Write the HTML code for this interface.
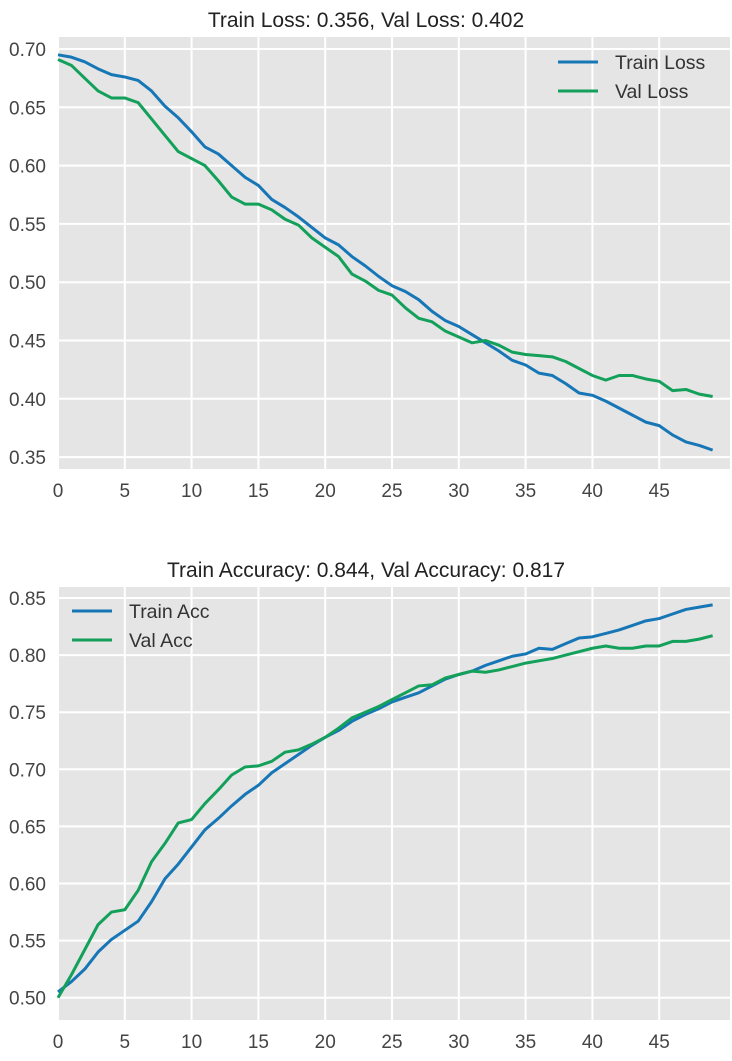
<!DOCTYPE html>
<html><head><meta charset="utf-8"><style>
body{margin:0;background:#fff;}
svg text{font-family:"Liberation Sans",sans-serif;}
</style></head><body>
<svg id="c" width="732" height="1056"></svg>
<script>
const epochs=[...Array(50).keys()];
const trainLoss=[0.695,0.693,0.689,0.683,0.678,0.676,0.673,0.664,0.651,0.641,0.629,0.616,0.610,0.600,0.590,0.583,0.571,0.564,0.556,0.547,0.538,0.532,0.522,0.514,0.505,0.497,0.492,0.485,0.475,0.467,0.462,0.455,0.448,0.441,0.433,0.429,0.422,0.420,0.413,0.405,0.403,0.398,0.392,0.386,0.380,0.377,0.369,0.363,0.360,0.356];
const valLoss=[0.691,0.686,0.675,0.664,0.658,0.658,0.654,0.640,0.626,0.612,0.606,0.600,0.587,0.573,0.567,0.567,0.562,0.554,0.549,0.538,0.530,0.522,0.507,0.501,0.493,0.489,0.478,0.469,0.466,0.458,0.453,0.448,0.450,0.446,0.440,0.438,0.437,0.436,0.432,0.426,0.420,0.416,0.420,0.420,0.417,0.415,0.407,0.408,0.404,0.402];
const trainAcc=[0.505,0.514,0.525,0.540,0.551,0.559,0.567,0.584,0.604,0.617,0.632,0.647,0.657,0.668,0.678,0.686,0.697,0.705,0.713,0.721,0.728,0.734,0.742,0.748,0.753,0.759,0.763,0.767,0.773,0.779,0.783,0.786,0.791,0.795,0.799,0.801,0.806,0.805,0.810,0.815,0.816,0.819,0.822,0.826,0.830,0.832,0.836,0.840,0.842,0.844];
const valAcc=[0.500,0.520,0.542,0.564,0.575,0.577,0.594,0.619,0.635,0.653,0.656,0.670,0.682,0.695,0.702,0.703,0.707,0.715,0.717,0.722,0.728,0.736,0.745,0.750,0.755,0.761,0.767,0.773,0.774,0.780,0.783,0.786,0.785,0.787,0.790,0.793,0.795,0.797,0.800,0.803,0.806,0.808,0.806,0.806,0.808,0.808,0.812,0.812,0.814,0.817];
const xTicks=[0,5,10,15,20,25,30,35,40,45];
const lossTicks=[0.35,0.40,0.45,0.50,0.55,0.60,0.65,0.70];
const accTicks=[0.50,0.55,0.60,0.65,0.70,0.75,0.80,0.85];
const NS='http://www.w3.org/2000/svg';
const svg=document.getElementById('c');
function mk(tag,attrs,parent){const e=document.createElementNS(NS,tag);for(const k in attrs)e.setAttribute(k,attrs[k]);(parent||svg).appendChild(e);return e;}
const BLUE='#1776b6',GREEN='#13a05a';
function panel(o){
  const g=mk('g',{});
  
  
  const X=v=>o.x0+(v-0)*o.xs;
  const Y=v=>o.yRef+(o.vRef-v)*o.ys;
  const bg=mk('rect',{x:o.left,y:o.top,width:o.right-o.left,height:o.bottom-o.top,fill:'#e5e5e5'},g);
  
  
  xTicks.forEach(t=>{
    mk('line',{x1:X(t),x2:X(t),y1:o.top,y2:o.bottom,stroke:'#fff','stroke-width':2},g);
    const tx=mk('text',{x:X(t),y:o.bottom+28,'text-anchor':'middle','font-size':19,fill:'#444'},g);
    tx.textContent=t;
    
    
  });
  o.yt.forEach(t=>{
    mk('line',{x1:o.left,x2:o.right,y1:Y(t),y2:Y(t),stroke:'#fff','stroke-width':2},g);
    const tx=mk('text',{x:o.left-12,y:Y(t)+7,'text-anchor':'end','font-size':19,fill:'#444'},g);
    tx.textContent=t.toFixed(2);
    
    
  });
  o.series.forEach(s=>{
    const p=mk('polyline',{points:epochs.map(i=>X(i)+','+Y(s.d[i])).join(' '),fill:'none',stroke:s.c,'stroke-width':3,'stroke-linejoin':'round'},g);
    
    
  });
  const tt=mk('text',{x:(o.left+o.right)/2-28,y:o.top-10,'text-anchor':'middle','font-size':21,fill:'#222'},g);
  tt.textContent=o.title;
  
  
  o.series.forEach((s,i)=>{
    const ly=o.ly+i*29;
    const le=mk('g',{},g);
    
    
    mk('line',{x1:o.lx,x2:o.lx+40,y1:ly,y2:ly,stroke:s.c,'stroke-width':3},le);
    const t=mk('text',{x:o.lx+57,y:ly+7,'font-size':19.5,fill:'#333'},le);
    t.textContent=s.l;
  });
}
panel({name:'loss-chart',left:58,right:730,top:37,bottom:469,x0:58,xs:13.36,yRef:49,vRef:0.70,ys:1166,yt:lossTicks,
  title:'Train Loss: 0.356, Val Loss: 0.402',lx:558,ly:62,
  series:[{d:trainLoss,c:BLUE,n:'train-loss-line',l:'Train Loss'},{d:valLoss,c:GREEN,n:'val-loss-line',l:'Val Loss'}]});
panel({name:'accuracy-chart',left:58,right:730,top:587,bottom:1020,x0:58,xs:13.36,yRef:598,vRef:0.85,ys:1142,yt:accTicks,
  title:'Train Accuracy: 0.844, Val Accuracy: 0.817',lx:72,ly:611,
  series:[{d:trainAcc,c:BLUE,n:'train-acc-line',l:'Train Acc'},{d:valAcc,c:GREEN,n:'val-acc-line',l:'Val Acc'}]});
</script>
</body></html>
